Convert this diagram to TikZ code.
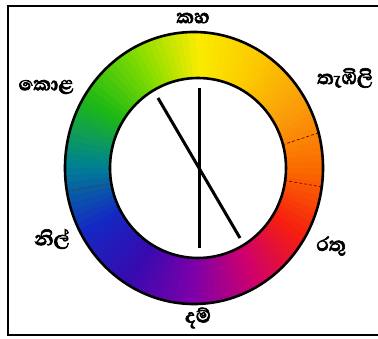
\documentclass[tikz,border=0pt]{standalone}
\usepackage{fontspec}
\usetikzlibrary{calc}
\newfontfamily\sinfont[Script=Sinhala, FakeBold=2.5]{Abhaya Libre}
\begin{document}
\begin{tikzpicture}[x=1pt,y=1pt,
  lbl/.style={font=\sinfont\bfseries\fontsize{25}{25}\selectfont, inner sep=0pt},
  rim/.style={draw=black, line width=2.6pt},
  bar/.style={line width=3pt, black},
  seam/.style={densely dashed, line width=0.7pt}]
\useasboundingbox (0,0) rectangle (378,338);
\draw[line width=2pt] (378,332) -- (8,332) -- (8,3) -- (378,3);
% colour stops, clockwise from top
\definecolor{s0}{RGB}{250,236,0}
\definecolor{s1}{RGB}{252,200,0}
\definecolor{s2}{RGB}{250,155,10}
\definecolor{s3}{RGB}{250,105,0}
\definecolor{s4}{RGB}{245,30,15}
\definecolor{s5}{RGB}{205,0,110}
\definecolor{s6}{RGB}{125,0,170}
\definecolor{s7}{RGB}{55,10,175}
\definecolor{s8}{RGB}{20,40,195}
\definecolor{s9}{RGB}{0,130,145}
\definecolor{s10}{RGB}{30,185,20}
\definecolor{s11}{RGB}{130,220,0}
\definecolor{s12}{RGB}{250,236,0}
\coordinate (oc) at (194,170);
\coordinate (ic) at (198,170);
\foreach \k [evaluate=\k as \kn using int(\k+1)] in {0,...,11}{
  \foreach \t in {0,1,2,3,4,5,6,7,8,9}{
    \pgfmathsetmacro{\aa}{90-30*\k-3*\t}
    \pgfmathsetmacro{\ab}{\aa-3.4}
    \pgfmathsetmacro{\pp}{10*\t}
    \colorlet{segc}{s\kn!\pp!s\k}
    \fill[segc] ($(oc)+(\aa:129 and 136)$) -- ($(oc)+(\ab:129 and 136)$)
      -- ($(ic)+(\ab:88 and 90)$) -- ($(ic)+(\aa:88 and 90)$) -- cycle;
  }
}
% faint segment divisions
\draw[seam, black!75] ($(oc)+(-170:129 and 136)$) -- ($(ic)+(-170:88 and 90)$);
\draw[seam, red!50!black] ($(oc)+(-8:129 and 136)$) -- ($(ic)+(-8:88 and 90)$);
\draw[seam, red!50!black] ($(oc)+(15:129 and 136)$) -- ($(ic)+(15:88 and 90)$);
\draw[rim] (oc) ellipse [x radius=129, y radius=136];
\draw[rim, fill=white] (ic) ellipse [x radius=88, y radius=90];
% lines
\coordinate (v1) at (199,250);
\coordinate (v2) at (199,90);
\coordinate (d1) at (158,240);
\coordinate (d2) at (240,100);
\draw[bar] (v1) -- (v2);
\draw[bar] (d1) -- (d2);
% labels
\node[lbl] (yel) at (193,320) {කහ};
\node[lbl] (grn) at (46,251) {කොළ};
\node[lbl] (org) at (345,260) {තැඹිලි};
\node[lbl] (blu) at (52,99) {නිල්};
\node[lbl] (red) at (331,92) {රතු};
\node[lbl] (pur) at (198,20) {දම්};
\end{tikzpicture}
\end{document}
